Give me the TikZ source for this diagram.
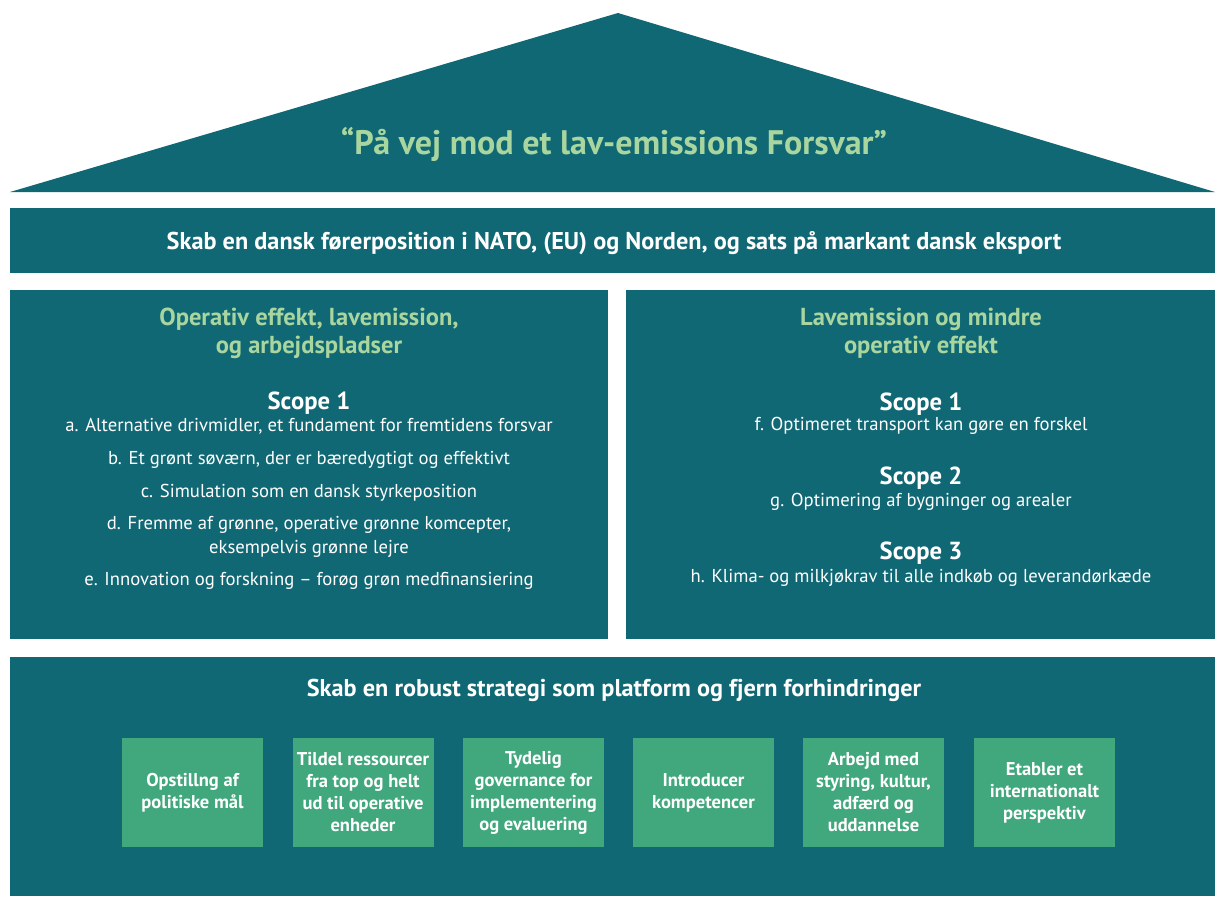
\documentclass[tikz,border=0pt]{standalone}
\usepackage{fontspec}
\setmainfont{PT Sans}
\definecolor{forsvarteal}{HTML}{106874}
\definecolor{forsvarmint}{HTML}{A9D59F}
\definecolor{forsvargreen}{HTML}{41A77D}
\tikzset{
    panel/.style={fill=forsvarteal, draw=none},
    roof title/.style={text=forsvarmint, font=\fontsize{25.5}{30}\selectfont\bfseries},
    band text/.style={text=white, font=\fontsize{18.2}{22}\selectfont\bfseries},
    pillar head/.style={text=forsvarmint, align=center, font=\fontsize{18.4}{21}\selectfont\bfseries},
    scope head/.style={text=white, font=\fontsize{18.5}{22}\selectfont\bfseries},
    scope item/.style={text=white, align=center, font=\fontsize{14}{18}\selectfont},
    measure box/.style={fill=forsvargreen, draw=none, text=white, align=center,
        minimum width=105.75pt, minimum height=81.75pt, inner sep=0pt,
        font=\fontsize{13.9}{16.5}\selectfont\bfseries}
}
\begin{document}
\begin{tikzpicture}[x=0.75pt,y=0.75pt,yscale=-1,xscale=1]
        \useasboundingbox (0,0) rectangle (1215,897);

        %Shape: Roof
        \fill [panel] (618,13) -- (1215,192) -- (10,192) -- cycle ;
        %Shape: Rectangle
        \fill [panel] (10,208) rectangle (1215,273) ;
        %Shape: Rectangle
        \fill [panel] (10,290) rectangle (608,639) ;
        %Shape: Rectangle
        \fill [panel] (626,290) rectangle (1215,639) ;
        %Shape: Rectangle
        \fill [panel] (10,657) rectangle (1215,896) ;

        % Text Node
        \node [roof title] (motto) at (614,144) {“På vej mod et lav-emissions Forsvar”};
        % Text Node
        \node [band text] (goal) at (614,243) {Skab en dansk førerposition i NATO, (EU) og Norden, og sats på markant dansk eksport};

        % left pillar
        \node [pillar head] (opshead) at (309,333) {Operativ effekt, lavemission,\\og arbejdspladser};
        \node [scope head] (opsscope) at (309,403) {Scope 1};
        \node [scope item] (itema) at (309,426) {a. Alternative drivmidler, et fundament for fremtidens forsvar};
        \node [scope item] (itemb) at (309,460) {b. Et grønt søværn, der er bæredygtigt og effektivt};
        \node [scope item] (itemc) at (309,493) {c. Simulation som en dansk styrkeposition};
        \node [scope item] (itemd) at (309,537) {d. Fremme af grønne, operative grønne komcepter,\\eksempelvis grønne lejre};
        \node [scope item] (iteme) at (309,581) {e. Innovation og forskning – forøg grøn medfinansiering};

        % right pillar
        \node [pillar head] (lowhead) at (921,333) {Lavemission og mindre\\operativ effekt};
        \node [scope head] (lowscopeA) at (921,404) {Scope 1};
        \node [scope item] (itemf) at (921,426) {f. Optimeret transport kan gøre en forskel};
        \node [scope head] (lowscopeB) at (921,478) {Scope 2};
        \node [scope item] (itemg) at (921,502) {g. Optimering af bygninger og arealer};
        \node [scope head] (lowscopeC) at (921,553) {Scope 3};
        \node [scope item] (itemh) at (921,578) {h. Klima- og milkjøkrav til alle indkøb og leverandørkæde};

        % foundation
        \node [band text] (basehead) at (614,690) {Skab en robust strategi som platform og fjern forhindringer};
        \foreach \x/\txt [count=\i] in {192.5/{Opstillng af\\politiske mål},
                363/{Tildel ressourcer\\fra top og helt\\ud til operative\\enheder},
                533.5/{Tydelig\\governance for\\implementering\\og evaluering},
                703.5/{Introducer\\kompetencer},
                873.5/{Arbejd med\\styring, kultur,\\adfærd og\\uddannelse},
                1044.5/{Etabler et\\internationalt\\perspektiv}}
            \node [measure box] (measure\i) at (\x,792.5) {\txt};
\end{tikzpicture}
\end{document}
